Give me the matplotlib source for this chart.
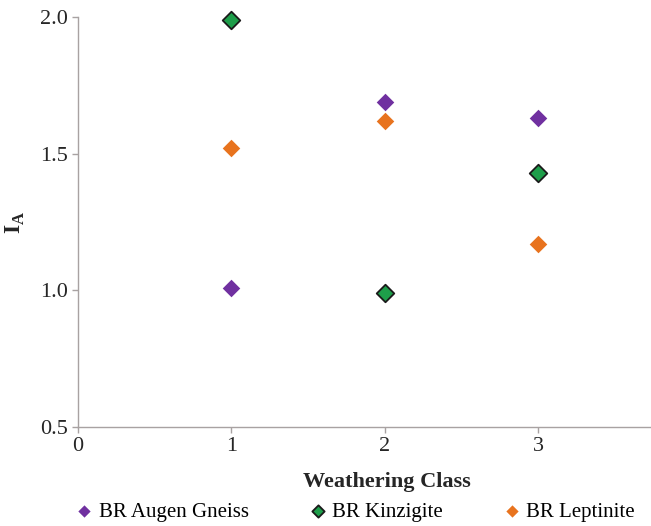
import matplotlib
matplotlib.use('Agg')
import matplotlib.pyplot as plt

# weathering classes and I_A values per rock type
classes = [1, 2, 3]
augen_gneiss = [1.01, 1.69, 1.63]
kinzigite = [1.99, 0.99, 1.43]
leptinite = [1.52, 1.62, 1.17]

plt.rcParams['font.family'] = ['Liberation Serif', 'DejaVu Serif']

fig = plt.figure(figsize=(6.51, 5.26), dpi=100)
ax = fig.add_axes([78 / 651, 99 / 526, (650 - 78) / 651, (427 - 17) / 526])

ax.scatter(classes, augen_gneiss, marker='D', s=80, color='#7030A0',
           linewidths=0, label='BR Augen Gneiss', zorder=3, clip_on=False)
ax.scatter(classes, kinzigite, marker='D', s=80, color='#1E9E4A',
           edgecolors='#1a1a1a', linewidths=1.3, label='BR Kinzigite',
           zorder=3, clip_on=False)
ax.scatter(classes, leptinite, marker='D', s=80, color='#E8731E',
           linewidths=0, label='BR Leptinite', zorder=3, clip_on=False)

ax.set_xlim(0, 3.73)
ax.set_ylim(0.5, 2.0)
ax.set_xticks([0, 1, 2, 3])
ax.set_yticks([0.5, 1.0, 1.5, 2.0])
ax.set_yticklabels(['0.5', '1.0', '1.5', '2.0'])

for side in ['top', 'right']:
    ax.spines[side].set_visible(False)
for side in ['left', 'bottom']:
    ax.spines[side].set_color('#a8a2a2')
    ax.spines[side].set_linewidth(1.0)
ax.tick_params(colors='#a8a2a2', labelcolor='#262626', labelsize=16,
               length=4, width=1.0, pad=3)

ax.set_xlabel('Weathering Class', fontsize=16, fontweight='bold',
              color='#262626')
ax.xaxis.set_label_coords(0.54, -0.11)
ax.set_ylabel('I$_\\mathregular{A}$', fontsize=17, fontweight='bold',
              color='#262626')
ax.yaxis.set_label_coords(-0.09, 0.5)

fig.legend(*ax.get_legend_handles_labels(), loc='center left',
           bbox_to_anchor=(76 / 651, 1 - 512 / 526), ncol=3, frameon=False,
           fontsize=15, handlelength=0.8, handletextpad=0.3,
           columnspacing=2.9, markerscale=0.7, borderpad=0,
           borderaxespad=0)

fig.savefig('out.png', dpi=100)
